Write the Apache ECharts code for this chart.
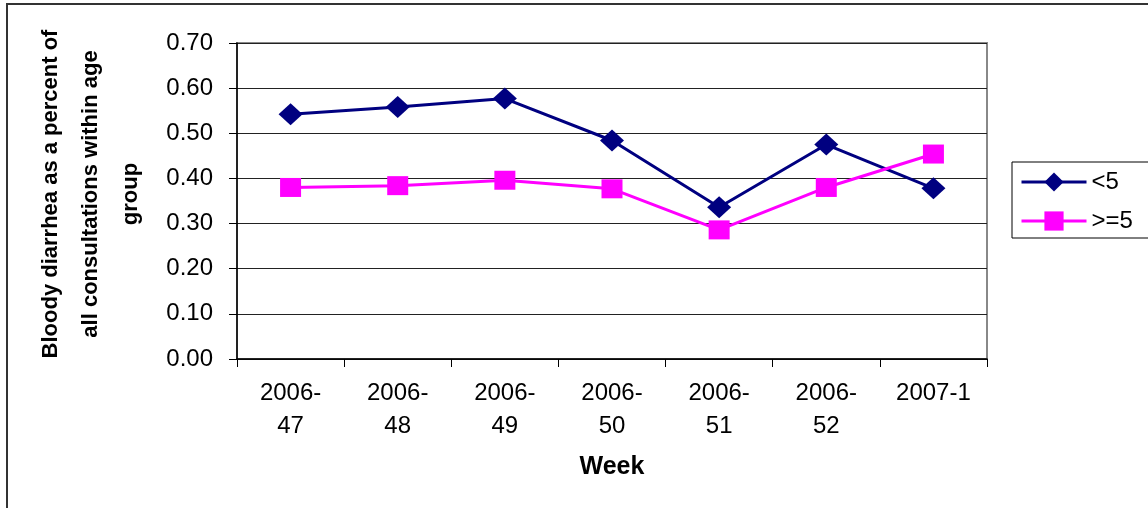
<!DOCTYPE html>
<html>
<head>
<meta charset="utf-8">
<script src="https://cdn.jsdelivr.net/npm/echarts@6/dist/echarts.min.js"></script>
<style>
  html, body { margin: 0; padding: 0; width: 1148px; height: 508px; overflow: hidden; background: #fff; }
  #frame { position: absolute; left: 6px; top: 3px; width: 1300px; height: 700px; border: 2px solid #333; box-sizing: border-box; }
  #chart { position: absolute; left: 0; top: 0; width: 1148px; height: 508px; }
</style>
</head>
<body>
<div id="frame"></div>
<div id="chart"></div>
<script>
const categories = ['2006-47', '2006-48', '2006-49', '2006-50', '2006-51', '2006-52', '2007-1'];
const under5 = [0.542, 0.558, 0.577, 0.484, 0.336, 0.475, 0.378];
const over5 = [0.380, 0.384, 0.396, 0.377, 0.286, 0.380, 0.454];
const seriesNames = ['<5', '>=5'];
const yTitle = 'Bloody diarrhea as a percent of\nall consultations within age\ngroup';
const xTitle = 'Week';

const FONT = '"Liberation Sans", Arial, sans-serif';
const chart = echarts.init(document.getElementById('chart'), null, { renderer: 'canvas' });
chart.setOption({
  animation: false,
  backgroundColor: 'transparent',
  grid: { left: 237, top: 43, width: 750, height: 316, show: true, borderColor: '#888', borderWidth: 2, backgroundColor: 'transparent' },
  xAxis: {
    type: 'category',
    data: categories,
    boundaryGap: true,
    axisLine: { lineStyle: { color: '#000', width: 1.5 } },
    axisTick: { show: true, interval: 0, length: 8, lineStyle: { color: '#000' } },
    axisLabel: {
      interval: 0, margin: 18, color: '#000', fontFamily: FONT, fontSize: 24, lineHeight: 33,
      formatter: v => v.length > 6 ? v.replace('-', '-\n') : v
    },
    name: xTitle,
    nameLocation: 'middle',
    nameGap: 96,
    nameTextStyle: { color: '#000', fontFamily: FONT, fontSize: 25, fontWeight: 'bold' }
  },
  yAxis: {
    type: 'value',
    min: 0, max: 0.7, interval: 0.1,
    axisLine: { show: true, lineStyle: { color: '#000', width: 1.5 } },
    axisTick: { show: true, length: 8, lineStyle: { color: '#000' } },
    axisLabel: { margin: 24, color: '#000', fontFamily: FONT, fontSize: 24, formatter: v => v.toFixed(2) },
    splitLine: { show: true, lineStyle: { color: '#222', width: 1 } }
  },
  legend: {
    orient: 'vertical',
    left: 1012, top: 162,
    padding: [8, 16, 5, 8],
    itemGap: 15,
    itemWidth: 65, itemHeight: 24,
    borderColor: '#000', borderWidth: 1,
    lineStyle: { width: 3 },
    textStyle: { color: '#000', fontFamily: FONT, fontSize: 24, lineHeight: 24 },
    data: seriesNames
  },
  graphic: [{
    type: 'text',
    x: 91, y: 194,
    rotation: Math.PI / 2,
    style: {
      text: yTitle,
      align: 'center', verticalAlign: 'middle',
      font: 'bold 22px ' + FONT,
      lineHeight: 40,
      fill: '#000'
    }
  }],
  series: [
    {
      name: seriesNames[0], type: 'line', data: under5,
      symbol: 'diamond', symbolSize: [24, 22],
      lineStyle: { color: '#000080', width: 3 },
      itemStyle: { color: '#000080' }
    },
    {
      name: seriesNames[1], type: 'line', data: over5,
      symbol: 'rect', symbolSize: [21, 19],
      lineStyle: { color: '#FF00FF', width: 3 },
      itemStyle: { color: '#FF00FF' }
    }
  ]
});
</script>
</body>
</html>
